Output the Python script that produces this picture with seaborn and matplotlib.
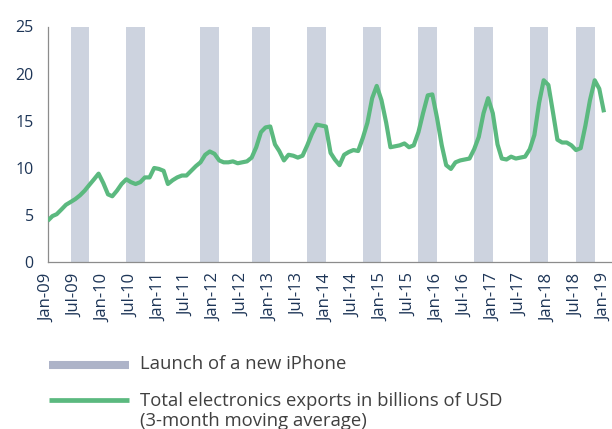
import matplotlib
matplotlib.use("Agg")
import matplotlib.pyplot as plt
import matplotlib.dates as mdates
from matplotlib.lines import Line2D
import seaborn as sns
import pandas as pd
import numpy as np

# ---------------- data ----------------
start_month = "2009-01"
exports = [
    4.4, 4.9, 5.1, 5.6, 6.1, 6.4, 6.7, 7.1, 7.6, 8.2, 8.8, 9.4,      # 2009
    8.4, 7.2, 7.0, 7.6, 8.3, 8.8, 8.5, 8.3, 8.5, 9.0, 9.0, 10.0,     # 2010
    9.9, 9.7, 8.3, 8.7, 9.0, 9.2, 9.2, 9.7, 10.2, 10.6, 11.4, 11.75, # 2011
    11.5, 10.8, 10.6, 10.6, 10.7, 10.5, 10.6, 10.7, 11.1, 12.2, 13.8, 14.3,  # 2012
    14.4, 12.5, 11.8, 10.8, 11.4, 11.3, 11.1, 11.3, 12.4, 13.6, 14.6, 14.5,  # 2013
    14.4, 11.6, 10.9, 10.3, 11.4, 11.7, 11.9, 11.8, 13.2, 14.8, 17.4, 18.7,  # 2014
    17.2, 14.8, 12.2, 12.3, 12.4, 12.6, 12.2, 12.4, 13.8, 15.8, 17.7, 17.8,  # 2015
    15.3, 12.4, 10.3, 9.9, 10.6, 10.8, 10.9, 11.0, 12.0, 13.3, 15.8, 17.4,   # 2016
    15.8, 12.5, 11.0, 10.9, 11.2, 11.0, 11.1, 11.2, 12.0, 13.5, 16.9, 19.3,  # 2017
    18.8, 15.8, 13.0, 12.7, 12.7, 12.4, 11.9, 12.1, 14.5, 17.2, 19.3, 18.4,  # 2018
    15.9,                                                                    # Jan 2019
]
launch_start = ["2009-06-01", "2010-06-01", "2011-10-01", "2012-09-01", "2013-09-01",
                "2014-09-01", "2015-09-01", "2016-09-01", "2017-09-01", "2018-07-01"]
launch_end = ["2009-10-01", "2010-10-01", "2012-02-01", "2013-01-01", "2014-01-01",
              "2015-01-01", "2016-01-01", "2017-01-01", "2018-01-01", "2018-11-01"]
tick_dates = pd.date_range("2009-01-01", "2019-01-01", freq="6MS")
yticks = [0, 5, 10, 15, 20, 25]
legend_bar_label = "Launch of a new iPhone"
legend_line_label = ["Total electronics exports in billions of USD",
                     "(3-month moving average)"]

# ---------------- style ----------------
sns.set_style("white")
plt.rcParams["font.family"] = ["Open Sans", "DejaVu Sans"]

navy = "#1d3557"
green = "#5bb97f"
bar_col = "#cdd3df"
legend_bar = "#adb3c8"
spine_col = "#8c8c8c"
text_col = "#404040"

dates = pd.date_range(start_month + "-01", periods=len(exports), freq="MS")
df = pd.DataFrame({"date": dates, "value": exports})

fig = plt.figure(figsize=(6.12, 4.29), dpi=100)
ax = fig.add_axes([47.7 / 612, 1 - 262.3 / 429, 1 - 47.7 / 612, (262.3 - 26.5) / 429])

for s, e in zip(launch_start, launch_end):
    ax.axvspan(pd.Timestamp(s), pd.Timestamp(e), color=bar_col, lw=0, zorder=1)

sns.lineplot(data=df, x="date", y="value", ax=ax, color=green, lw=3.0, zorder=3,
             solid_joinstyle="round", solid_capstyle="butt")

ax.set_ylim(0, 25)
ax.set_yticks(yticks)
x0 = pd.Timestamp("2009-01-01")
x1 = pd.Timestamp("2019-01-01")
ax.set_xlim(x0, x0 + (x1 - x0) * (612 - 47.7) / (604 - 47.7))
ax.set_xticks(tick_dates)
ax.xaxis.set_major_formatter(mdates.DateFormatter("%b-%y"))
plt.setp(ax.get_xticklabels(), rotation=90)
ax.set_xlabel("")
ax.set_ylabel("")

for side in ["top", "right"]:
    ax.spines[side].set_visible(False)
for side in ["left", "bottom"]:
    ax.spines[side].set_color(spine_col)
    ax.spines[side].set_linewidth(0.9)
ax.tick_params(axis="both", which="both", direction="out", length=4, width=0.8,
               color=spine_col, labelcolor=navy)
ax.tick_params(axis="x", pad=4, labelsize=12)
ax.tick_params(axis="y", pad=6, labelsize=11.5)
ax.grid(False)

# ---------------- legend ----------------
def fy(py):
    return 1 - py / 429

fig.add_artist(Line2D([49.3 / 612, 129 / 612], [fy(364.7)] * 2, color=legend_bar, lw=5.8,
                      solid_capstyle="butt", transform=fig.transFigure))
fig.add_artist(Line2D([49.3 / 612, 129 / 612], [fy(399.7)] * 2, color=green, lw=3.4,
                      solid_capstyle="butt", transform=fig.transFigure))
fig.text(140.5 / 612, fy(369.3), legend_bar_label, fontsize=13.3, color=text_col,
         va="baseline", ha="left")
fig.text(140.5 / 612, fy(405.7), legend_line_label[0], fontsize=13.3, color=text_col,
         va="baseline", ha="left")
fig.text(140.5 / 612, fy(426), legend_line_label[1], fontsize=13.3, color=text_col,
         va="baseline", ha="left")

fig.savefig("out.png", dpi=100)
